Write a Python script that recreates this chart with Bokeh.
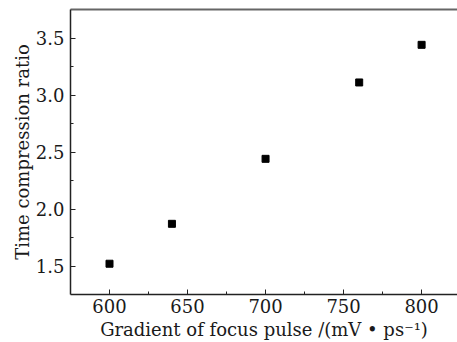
from bokeh.plotting import figure
from bokeh.models import Range1d, LinearAxis, FixedTicker
from bokeh.embed import file_html
from bokeh.resources import INLINE

gradient = [600, 640, 700, 760, 800]
ratio = [1.52, 1.87, 2.44, 3.11, 3.44]
x_ticks = [600, 650, 700, 750, 800]
y_ticks = [1.5, 2.0, 2.5, 3.0, 3.5]
y_tick_labels = ["1.5", "2.0", "2.5", "3.0", "3.5"]

FONT = "DejaVu Serif"

p = figure(width=457, height=342, output_backend="svg", toolbar_location=None,
           x_range=Range1d(575, 823), y_range=Range1d(1.25, 3.75),
           min_border_left=70, min_border_top=9, min_border_bottom=46, min_border_right=0)
p.outline_line_color = None
p.grid.visible = False
p.background_fill_color = "white"
p.border_fill_color = "white"

p.scatter(gradient, ratio, marker="square", size=7, color="black")

for ax in (p.xaxis[0], p.yaxis[0]):
    ax.axis_line_color = "#222222"
    ax.axis_line_width = 1.5
    ax.major_tick_in = 5
    ax.major_tick_out = 0
    ax.minor_tick_in = 3
    ax.minor_tick_out = 0
    ax.major_tick_line_color = "#222222"
    ax.minor_tick_line_color = "#222222"
    ax.major_label_text_font = FONT
    ax.major_label_text_font_size = "18px"
    ax.major_label_text_color = "#1a1a1a"
    ax.axis_label_text_font = FONT
    ax.axis_label_text_font_size = "18px"
    ax.axis_label_text_font_style = "normal"
    ax.axis_label_text_color = "#1a1a1a"

p.xaxis[0].ticker = FixedTicker(ticks=x_ticks, minor_ticks=[625, 675, 725, 775])
p.yaxis[0].ticker = FixedTicker(ticks=y_ticks, minor_ticks=[1.75, 2.25, 2.75, 3.25])
p.yaxis[0].major_label_overrides = {t: s for t, s in zip(y_ticks, y_tick_labels)}
p.xaxis[0].axis_label = "Gradient of focus pulse /(mV • ps⁻¹)"
p.yaxis[0].axis_label = "Time compression ratio"
p.xaxis[0].major_label_standoff = 4
p.xaxis[0].axis_label_standoff = 3
p.yaxis[0].major_label_standoff = 6
p.yaxis[0].axis_label_standoff = 0

top = LinearAxis(ticker=FixedTicker(ticks=[]), axis_line_color="#666666", axis_line_width=2,
                 major_tick_line_color=None, minor_tick_line_color=None,
                 major_label_text_font_size="0px")
p.add_layout(top, "above")

open("out.html", "w").write(file_html(p, INLINE))
